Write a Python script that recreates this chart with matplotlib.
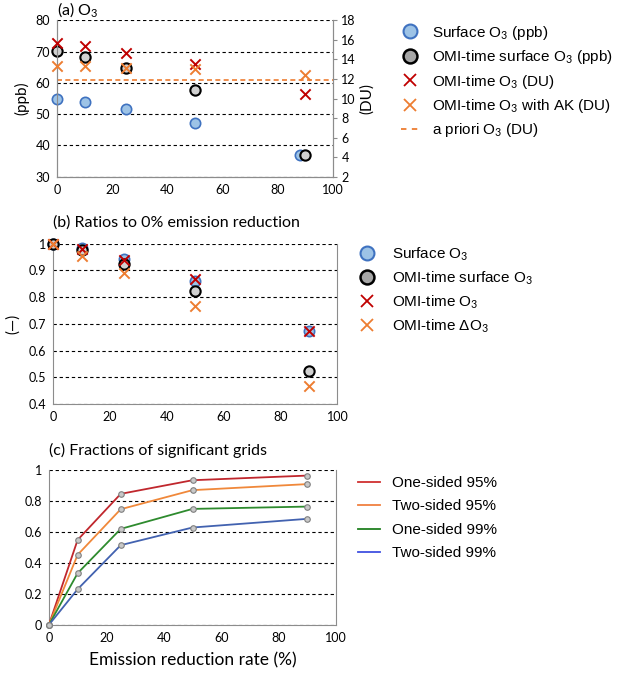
"""Ozon duyarlılık grafiği: (a) O3, (b) oranlar, (c) anlamlı grid oranları."""
import matplotlib

matplotlib.use("Agg")
import matplotlib.pyplot as plt
from matplotlib.lines import Line2D
from matplotlib.ticker import FuncFormatter

plt.rcParams["font.family"] = ["Lato", "DejaVu Sans"]
plt.rcParams["mathtext.fontset"] = "custom"
plt.rcParams["mathtext.rm"] = "Lato"

# --- veri ---
azaltim = [0, 10, 25, 50, 90]
azaltim_yuzey = [0, 10, 25, 50, 88]

yuzey_o3 = [55.0, 54.0, 51.8, 47.2, 36.8]
omi_yuzey_o3 = [70.3, 68.3, 64.9, 57.6, 36.8]
omi_o3_du = [15.7, 15.36, 14.68, 13.53, 10.47]
omi_o3_ak_du = [13.32, 13.32, 13.15, 12.98, 12.41]
apriori_du = 11.9

oran_yuzey = [1.0, 0.984, 0.944, 0.862, 0.672]
oran_omi_yuzey = [1.0, 0.975, 0.924, 0.822, 0.525]
oran_omi_o3 = [1.0, 0.98, 0.94, 0.869, 0.672]
oran_delta_o3 = [1.0, 0.953, 0.89, 0.766, 0.469]

tek_95 = [0, 0.548, 0.845, 0.933, 0.963]
cift_95 = [0, 0.452, 0.746, 0.869, 0.908]
tek_99 = [0, 0.333, 0.619, 0.748, 0.763]
cift_99 = [0, 0.23, 0.514, 0.628, 0.684]

MAVI_IC, MAVI_KENAR = "#9DC3E6", "#3F72C0"
GRI_IC = "#D0D0D0"
KIRMIZI = "#C00000"
TURUNCU = "#ED7D31"
SPINE = "#8C8C8C"


def eksen_bicimle(ax, ust, alt, etiket_fmt):
    ax.set_xlim(0, 100)
    ax.set_xticks(range(0, 101, 20))
    ax.set_ylim(alt, ust)
    ax.yaxis.set_major_formatter(etiket_fmt)
    ax.grid(axis="y", color="black", linestyle=(0, (3, 2.5)), linewidth=0.8)
    ax.set_axisbelow(True)
    ax.spines["top"].set_visible(False)
    for s in ("left", "bottom", "right"):
        ax.spines[s].set_color(SPINE)
    ax.tick_params(length=0, labelsize=9, pad=5)


fig = plt.figure(figsize=(6.19, 6.77), dpi=100)
gfmt = FuncFormatter(lambda v, p: f"{v:g}")
yazi = dict(family=["Liberation Sans", "DejaVu Sans"], size=11)
lejant = dict(loc="upper left", frameon=False, prop=yazi, borderpad=0, borderaxespad=0)

# (a) O3
ax = fig.add_axes([0.092, 0.739, 0.446, 0.231])
eksen_bicimle(ax, 80, 30, gfmt)
ax.set_yticks(range(30, 81, 10))
ax2 = ax.twinx()
ax2.set_ylim(2, 18)
ax2.set_yticks(range(2, 19, 2))
ax2.spines["top"].set_visible(False)
for s in ("left", "bottom", "right"):
    ax2.spines[s].set_color(SPINE)
ax2.tick_params(axis="y", length=3, color=SPINE, labelsize=9, pad=3)
ax.scatter(azaltim_yuzey, yuzey_o3, s=55, facecolor=MAVI_IC, edgecolor=MAVI_KENAR,
           linewidth=1.2, zorder=3, clip_on=False)
ax.scatter(azaltim, omi_yuzey_o3, s=55, facecolor=GRI_IC, edgecolor="black",
           linewidth=1.5, zorder=3, clip_on=False)
ax2.axhline(apriori_du, color=TURUNCU, linestyle=(0, (3, 2)), linewidth=1.2)
ax2.scatter(azaltim, omi_o3_du, s=55, marker="x", color=KIRMIZI, linewidth=1.4,
            zorder=4, clip_on=False)
ax2.scatter(azaltim, omi_o3_ak_du, s=55, marker="x", color=TURUNCU, linewidth=1.4,
            zorder=4, clip_on=False)
ax.set_ylabel("(ppb)", fontsize=11, labelpad=4)
ax2.set_ylabel("(DU)", fontsize=11, labelpad=3)
ax.set_title("(a) O$_3$", fontsize=11.5, loc="left", x=0.0, pad=3)

tutamak_a = [
    Line2D([], [], linestyle="", marker="o", markersize=10, markerfacecolor=MAVI_IC,
           markeredgecolor=MAVI_KENAR, markeredgewidth=1.5),
    Line2D([], [], linestyle="", marker="o", markersize=10, markerfacecolor="#A6A6A6",
           markeredgecolor="black", markeredgewidth=1.8),
    Line2D([], [], linestyle="", marker="x", markersize=8, color=KIRMIZI, markeredgewidth=1.3),
    Line2D([], [], linestyle="", marker="x", markersize=8, color=TURUNCU, markeredgewidth=1.3),
    Line2D([], [], linestyle=(0, (3, 3)), color=TURUNCU, linewidth=1.3),
]
etiket_a = ["Surface O$_3$ (ppb)", "OMI-time surface O$_3$ (ppb)", "OMI-time O$_3$ (DU)",
            "OMI-time O$_3$ with AK (DU)", "a priori O$_3$ (DU)"]
fig.legend(tutamak_a, etiket_a, bbox_to_anchor=(0.6475, 0.965), handlelength=1.2,
           handletextpad=0.84, labelspacing=0.42, **lejant)

# (b) oranlar
bx = fig.add_axes([0.086, 0.403, 0.459, 0.237])
eksen_bicimle(bx, 1.0, 0.4, gfmt)
bx.set_yticks([0.4, 0.5, 0.6, 0.7, 0.8, 0.9, 1.0])
bx.scatter(azaltim, oran_yuzey, s=55, facecolor=MAVI_IC, edgecolor=MAVI_KENAR,
           linewidth=1.2, zorder=3, clip_on=False)
bx.scatter(azaltim, oran_omi_yuzey, s=55, facecolor=GRI_IC, edgecolor="black",
           linewidth=1.5, zorder=3, clip_on=False)
bx.scatter(azaltim, oran_omi_o3, s=55, marker="x", color=KIRMIZI, linewidth=1.4,
           zorder=4, clip_on=False)
bx.scatter(azaltim, oran_delta_o3, s=55, marker="x", color=TURUNCU, linewidth=1.4,
           zorder=4, clip_on=False)
bx.set_ylabel("(—)", fontsize=11, labelpad=6)
bx.set_title("(b) Ratios to 0% emission reduction", fontsize=11.5, loc="left", x=0.0, pad=12)
fig.legend(tutamak_a[:4],
           ["Surface O$_3$", "OMI-time surface O$_3$", "OMI-time O$_3$", "OMI-time ΔO$_3$"],
           bbox_to_anchor=(0.578, 0.638), handlelength=1.2, handletextpad=1.03,
           labelspacing=0.42, **lejant)

# (c) anlamlı grid oranları
cx = fig.add_axes([0.079, 0.077, 0.464, 0.229])
eksen_bicimle(cx, 1.0, 0.0, gfmt)
cx.set_yticks([0, 0.2, 0.4, 0.6, 0.8, 1.0])
seriler = [
    (tek_95, "#C0272D", "#D03030", "One-sided 95%"),
    (cift_95, "#F0883A", "#F08040", "Two-sided 95%"),
    (tek_99, "#2E8B2E", "#208020", "One-sided 99%"),
    (cift_99, "#4262B0", "#4050E0", "Two-sided 99%"),
]
for degerler, renk, _, ad in seriler:
    cx.plot(azaltim, degerler, color=renk, linewidth=1.3, marker="o", markersize=4,
            markerfacecolor="#C8C8C8", markeredgecolor="#7F7F7F", markeredgewidth=0.8,
            clip_on=False, zorder=3)
cx.set_xlabel("Emission reduction rate (%)", fontsize=12.5, labelpad=6)
cx.set_title("(c) Fractions of significant grids", fontsize=11.5, loc="left", x=0.0, pad=11)
fig.legend([Line2D([], [], color=lr, linewidth=1.3) for _, _, lr, _ in seriler],
           [ad for *_, ad in seriler], bbox_to_anchor=(0.578, 0.297), handlelength=1.44,
           handletextpad=0.78, labelspacing=0.62, **lejant)

fig.savefig("out.png", dpi=100)
